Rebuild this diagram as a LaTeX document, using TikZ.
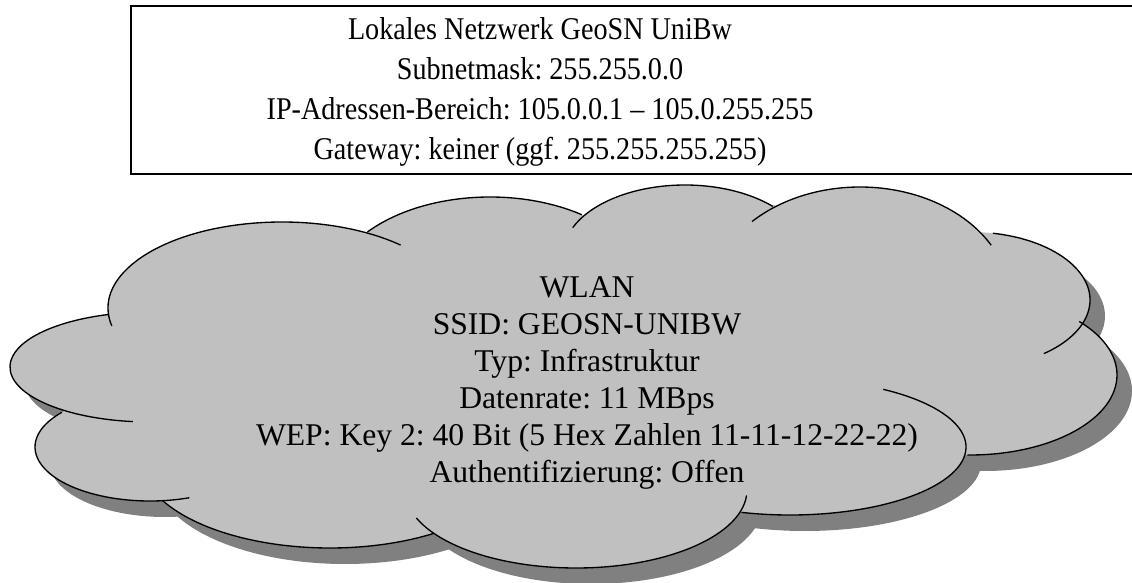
\documentclass[tikz,border=0pt]{standalone}
\usepackage{fontspec}
\setmainfont{Liberation Serif}
\newfontfamily\boxfont[FakeStretch=0.89,Ligatures=TeX]{Liberation Serif}
\frenchspacing
\definecolor{cloudgray}{HTML}{C0C0C0}
\definecolor{shadowgray}{HTML}{808080}
% lobes of the cloud: centre x/centre y/x radius/y radius/from/to (pixel units, y down)
\def\lobes{150/367/140/55/97/253, 282/308/174/86/168/313, 490/295/160/98/220/305,
  685/255/122/70/203/316, 860/300/150/113/224/331, 970/300/120/68/281/412,
  970/375/147/80/318/451, 790/447/176/68/302/466, 576/490/171/78/4/159,
  330/458/190/90/57/152, 150/447/115/54/70/220}
\begin{document}
\begin{tikzpicture}[x=0.025cm, y=-0.025cm,
  boxtext/.style={align=center,inner sep=0pt,font=\boxfont\fontsize{22.5}{28.45}\selectfont},
  cloudtext/.style={align=center,inner sep=0pt,font=\fontsize{22.5}{26.3}\selectfont},
  lobeline/.style={draw=black,line width=0.95pt}]
  \path[use as bounding box,clip] (0,0) rectangle (1132,583);
  % network box
  \draw[line width=1.4pt] (131,6) rectangle (1150,174);
  \node[boxtext] (lan) at (540,92) {Lokales Netzwerk GeoSN UniBw\\Subnetmask: 255.255.0.0\\IP-Adressen-Bereich: 105.0.0.1 -- 105.0.255.255\\Gateway: keiner (ggf. 255.255.255.255)};
  % cloud: shadow first, then body
  \foreach \dx/\dy/\col in {15/16/shadowgray, 0/0/cloudgray} {
    \begin{scope}[shift={(\dx,\dy)}]
      \fill[\col] (110,313) -- (368,232) -- (583,215) -- (773,205) -- (993,235) -- (1080,322)
        -- (967,453) -- (740,512) -- (433,533) -- (160,500) -- (63,413) -- cycle;
      \foreach \cx/\cy/\rx/\ry/\ta/\tb in \lobes
        \fill[\col] (\cx,\cy) ellipse[x radius=\rx*0.025cm, y radius=\ry*0.025cm];
    \end{scope}
  }
  \foreach \cx/\cy/\rx/\ry/\ta/\tb in \lobes
    \draw[lobeline] ({\cx+\rx*cos(\ta)},{\cy+\ry*sin(\ta)})
      arc[start angle=-\ta, end angle=-\tb, x radius=\rx*0.025cm, y radius=\ry*0.025cm];
  \node[cloudtext] (wlan) at (587,383) {WLAN\\SSID: GEOSN-UNIBW\\Typ: Infrastruktur\\Datenrate: 11 MBps\\WEP: Key 2: 40 Bit (5 Hex Zahlen 11-11-12-22-22)\\Authentifizierung: Offen};
\end{tikzpicture}
\end{document}
